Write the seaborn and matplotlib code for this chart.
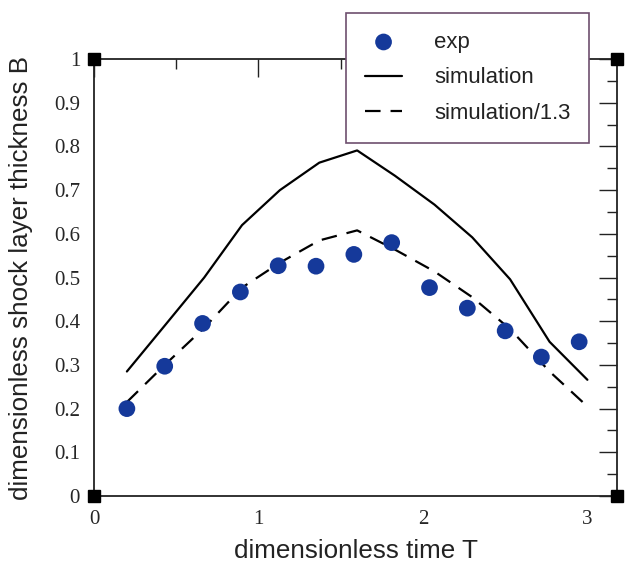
import matplotlib
matplotlib.use("Agg")
import matplotlib.pyplot as plt
import seaborn as sns
import pandas as pd
from matplotlib.ticker import MultipleLocator

# data
exp_T = [0.20, 0.43, 0.66, 0.89, 1.12, 1.35, 1.58, 1.81, 2.04, 2.27, 2.50, 2.72, 2.95]
exp_B = [0.200, 0.297, 0.395, 0.467, 0.527, 0.526, 0.553, 0.580, 0.477, 0.430, 0.378, 0.318, 0.353]
sim_T = [0.20, 0.43, 0.67, 0.90, 1.13, 1.37, 1.60, 1.83, 2.07, 2.30, 2.53, 2.77, 3.00]
sim_B = [0.285, 0.390, 0.500, 0.620, 0.700, 0.763, 0.791, 0.733, 0.667, 0.592, 0.496, 0.353, 0.266]
sim13_B = [0.215, 0.300, 0.385, 0.477, 0.534, 0.585, 0.608, 0.564, 0.514, 0.455, 0.382, 0.285, 0.205]

x_ticks = [0, 1, 2, 3]
y_ticks = [0, 0.1, 0.2, 0.3, 0.4, 0.5, 0.6, 0.7, 0.8, 0.9, 1]
y_ticklabels = ["0", "0.1", "0.2", "0.3", "0.4", "0.5", "0.6", "0.7", "0.8", "0.9", "1"]

sns.set_style("white")
plt.rcParams['font.family'] = ['Liberation Sans', 'DejaVu Sans']

fig = plt.figure(figsize=(6.25, 5.63), dpi=100)
ax = fig.add_axes([0.1504, 0.119, 0.8368, 0.776])

df_exp = pd.DataFrame({"T": exp_T, "B": exp_B})
df_sim = pd.DataFrame({"T": sim_T, "B": sim_B, "B13": sim13_B})

sns.lineplot(data=df_sim, x="T", y="B", ax=ax, color="black", lw=1.6,
             label="simulation", zorder=2)
sns.lineplot(data=df_sim, x="T", y="B13", ax=ax, color="black", lw=1.6,
             label="simulation/1.3", zorder=2)
ax.lines[-1].set_dashes([7, 4.5])
sns.scatterplot(data=df_exp, x="T", y="B", ax=ax, color="#15399a", s=145,
                edgecolor="none", label="exp", zorder=3)

ax.set_xlim(0, 3.18)
ax.set_ylim(0, 1)
ax.set_xticks(x_ticks)
ax.set_xticklabels([str(t) for t in x_ticks], family="Liberation Serif", fontsize=15)
ax.set_yticks(y_ticks)
ax.set_yticklabels(y_ticklabels, family="Liberation Serif", fontsize=15)
ax.xaxis.set_minor_locator(MultipleLocator(0.5))
ax.yaxis.set_minor_locator(MultipleLocator(0.05))
ax.tick_params(which="major", direction="in", length=13, width=1.0, color="#222222",
               top=True, right=True)
ax.tick_params(which="minor", direction="in", length=7, width=1.0, color="#222222",
               top=True, right=True)
ax.tick_params(axis="x", which="major", pad=10)
ax.tick_params(axis="y", which="major", pad=10)
for s in ax.spines.values():
    s.set_linewidth(1.3)
    s.set_color("#222222")
    s.set_visible(True)

ax.set_xlabel("dimensionless time T", fontsize=18.7, color="#222222", labelpad=7.5)
ax.set_ylabel("dimensionless shock layer thickness B", fontsize=18.7, color="#222222", labelpad=15)

# corner squares
ax.plot([0, 0, 3.18, 3.18], [0, 1, 0, 1], ls="none", marker="s", ms=8,
        color="black", clip_on=False, zorder=5)

handles, labels = ax.get_legend_handles_labels()
order = [labels.index("exp"), labels.index("simulation"), labels.index("simulation/1.3")]
leg = ax.legend([handles[i] for i in order], [labels[i] for i in order],
                loc="upper left", bbox_to_anchor=(346 / 625, 1 - 13 / 563),
                bbox_transform=fig.transFigure, frameon=True,
                fancybox=False, fontsize=15.9, handlelength=1.7, handletextpad=1.45,
                borderpad=0.85, labelspacing=0.66, borderaxespad=0, markerscale=1.0)
leg.get_frame().set_edgecolor("#6e4f6e")
leg.get_frame().set_linewidth(1.2)
leg.get_frame().set_alpha(1)
leg.set_zorder(10)
for t in leg.get_texts():
    t.set_color("#222222")

fig.savefig("out.png", dpi=100)
